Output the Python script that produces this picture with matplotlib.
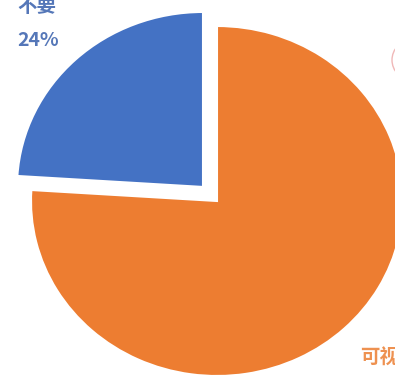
import matplotlib.pyplot as plt
from matplotlib.patches import Ellipse

plt.rcParams['font.family'] = ['Noto Sans CJK SC', 'DejaVu Sans']

# 调查结果
categories = ['不要', '可视化']
shares = [24, 76]
colors = ['#4472C4', '#ED7D31']
label_colors = ['#5577B8', '#EE9150']
explode = [0.11, 0]

W, H = 395, 377
fig = plt.figure(figsize=(W / 100, H / 100), dpi=100)
ax = fig.add_axes([0, 0, 1, 1])

wedges, _ = ax.pie(shares, colors=colors, explode=explode, startangle=90,
                   counterclock=True, radius=1.0,
                   wedgeprops=dict(edgecolor='white', linewidth=1.5))

# 饼图中心在 (217, 201) 像素处，横向半径略大于纵向
cx, cy, rx, ry = 217, 201, 186, 175
ax.set_aspect('auto')
ax.set_xlim(-cx / rx, (W - cx) / rx)
ax.set_ylim(-(H - cy) / ry, cy / ry)
ax.axis('off')

def px(x, y):
    return x / W, 1 - y / H

# 数据标签
ax.text(*px(17, 7), categories[0], transform=ax.transAxes, ha='left', va='center',
        fontsize=14, fontweight='bold', color=label_colors[0])
ax.text(*px(17, 40), f'{shares[0]}%', transform=ax.transAxes, ha='left', va='center',
        fontsize=14, fontweight='bold', color=label_colors[0])
ax.text(*px(360, 357), categories[1], transform=ax.transAxes, ha='left', va='center',
        fontsize=14, fontweight='bold', color=label_colors[1])

# 右上角的圆形标记
ax.add_patch(Ellipse(px(412, 60), 40 / W, 40 / H, transform=ax.transAxes,
                     fill=False, edgecolor='#F0B8B8', linewidth=1.0))

fig.savefig('out.png', dpi=100)
